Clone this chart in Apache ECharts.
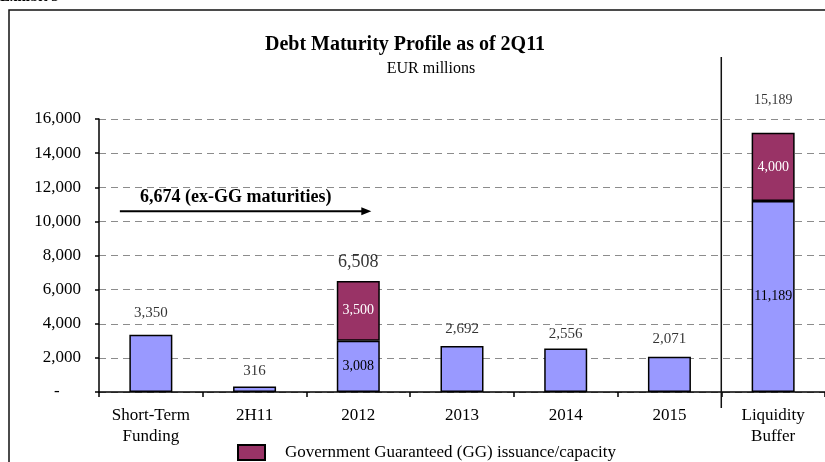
<!DOCTYPE html>
<html><head><meta charset="utf-8">
<script src="https://cdn.jsdelivr.net/npm/echarts@6/dist/echarts.min.js"></script>
<style>html,body{margin:0;padding:0;background:#fff}#c{width:825px;height:462px}</style>
</head><body><div id="c"></div>
<script>
var categories = ['Short-Term\nFunding', '2H11', '2012', '2013', '2014', '2015', 'Liquidity\nBuffer'];
var baseValues = [3350, 316, 3008, 2692, 2556, 2071, 11189];
var ggValues = [null, null, 3500, null, null, null, 4000];
var totals = [3350, 316, 6508, 2692, 2556, 2071, 15189];
var yTicks = { min: 0, max: 16000, interval: 2000 };
var annotationText = '6,674 (ex-GG maturities)';
var annotationValue = 10600;
var ggName = 'Government Guaranteed (GG) issuance/capacity';

var FONT = '"Liberation Serif", "Times New Roman", serif';
var totalLabelDist = [14, 8, 10, 10, 7, 10, 26];
var totalLabelSize = [15, 15, 18, 15, 15, 15, 14];

function fmt(v) { return Number(v).toLocaleString('en-US'); }

var chart = echarts.init(document.getElementById('c'));
var option = {
  animation: false,
  backgroundColor: '#fff',
  textStyle: { fontFamily: FONT, color: '#000' },
  title: [
    { text: 'Debt Maturity Profile as of 2Q11', left: 400, top: 30, textAlign: 'center',
      textStyle: { fontFamily: FONT, fontSize: 20, fontWeight: 'bold', color: '#000' } },
    { text: 'EUR millions', left: 426, top: 56, textAlign: 'center',
      textStyle: { fontFamily: FONT, fontSize: 16, fontWeight: 'normal', color: '#000' } }
  ],
  legend: {
    data: [ggName], left: 232, top: 439, icon: 'rect', itemWidth: 27, itemHeight: 15,
    textStyle: { fontFamily: FONT, fontSize: 17, color: '#000', padding: [0, 0, 0, 15] }
  },
  grid: { left: 99, top: 119, width: 728, height: 273, containLabel: false },
  xAxis: {
    type: 'category', data: categories,
    axisLine: { lineStyle: { color: '#000', width: 1.5 } },
    axisTick: { show: true, length: 5, lineStyle: { color: '#000', width: 1.5 } },
    axisLabel: { fontFamily: FONT, fontSize: 17, color: '#000', margin: 13, lineHeight: 21, interval: 0 }
  },
  yAxis: {
    type: 'value', min: yTicks.min, max: yTicks.max, interval: yTicks.interval,
    axisLine: { show: true, lineStyle: { color: '#000', width: 1.5 } },
    axisTick: { show: true, length: 4, lineStyle: { color: '#000', width: 1.5 } },
    axisLabel: { fontFamily: FONT, fontSize: 17, color: '#000', margin: 18,
      formatter: function (v) { return v === 0 ? '-     ' : fmt(v); } },
    splitLine: { show: true, lineStyle: { color: '#8c8c8c', width: 1, type: [7, 5] } }
  },
  series: [
    { name: 'Base', type: 'bar', stack: 's', barWidth: 43,
      itemStyle: { color: '#9999FF', borderColor: '#000', borderWidth: 1.5 },
      data: baseValues.map(function (v, i) {
        return { value: v, label: { show: ggValues[i] != null, position: 'inside', fontSize: 14,
          fontFamily: FONT, color: '#000', formatter: function (p) { return fmt(p.value); } } };
      })
    },
    { name: ggName, type: 'bar', stack: 's', barWidth: 43,
      itemStyle: { color: '#993366', borderColor: '#000', borderWidth: 1.5 },
      label: { show: true, position: 'inside', fontSize: 14, fontFamily: FONT, color: '#fff',
        formatter: function (p) { return fmt(p.value); } },
      data: ggValues
    },
    { name: 'Total', type: 'scatter', symbolSize: 0, silent: true,
      data: totals.map(function (v, i) {
        return { value: v, label: { show: true, position: 'top', distance: totalLabelDist[i],
          fontSize: totalLabelSize[i], fontFamily: FONT, color: '#000',
          formatter: function (p) { return fmt(p.value); } } };
      })
    }
  ]
};
chart.setOption(option);

var xA = chart.convertToPixel({ xAxisIndex: 0 }, categories[0]);
var x2012 = chart.convertToPixel({ xAxisIndex: 0 }, categories[2]);
var x2015 = chart.convertToPixel({ xAxisIndex: 0 }, categories[5]);
var xLB = chart.convertToPixel({ xAxisIndex: 0 }, categories[6]);
var yArrow = chart.convertToPixel({ yAxisIndex: 0 }, annotationValue);
var y0 = chart.convertToPixel({ yAxisIndex: 0 }, 0);
var xDiv = (x2015 + xLB) / 2;
var x1 = xA - 31, x2 = x2012 + 13;

chart.setOption({
  graphic: [
    { type: 'rect', shape: { x: 9, y: 10, width: 900, height: 600 },
      style: { fill: 'none', stroke: '#111', lineWidth: 1.5 }, z: 100 },
    { type: 'text', left: 0, top: -10, style: { text: 'Exhibit 3', font: 'bold 15px ' + FONT, fill: '#000' } },
    { type: 'line', shape: { x1: xDiv, y1: 57, x2: xDiv, y2: y0 + 16 },
      style: { stroke: '#111', lineWidth: 1.5 }, z: 100 },
    { type: 'line', shape: { x1: x1, y1: yArrow, x2: x2 - 8, y2: yArrow },
      style: { stroke: '#000', lineWidth: 2 }, z: 100 },
    { type: 'polygon', shape: { points: [[x2, yArrow], [x2 - 10, yArrow - 4], [x2 - 10, yArrow + 4]] },
      style: { fill: '#000' }, z: 100 },
    { type: 'text', x: 140, y: yArrow - 14, z: 100,
      style: { text: annotationText, font: 'bold 18px ' + FONT, fill: '#000',
        textVerticalAlign: 'middle', verticalAlign: 'middle' } }
  ]
});
</script></body></html>
